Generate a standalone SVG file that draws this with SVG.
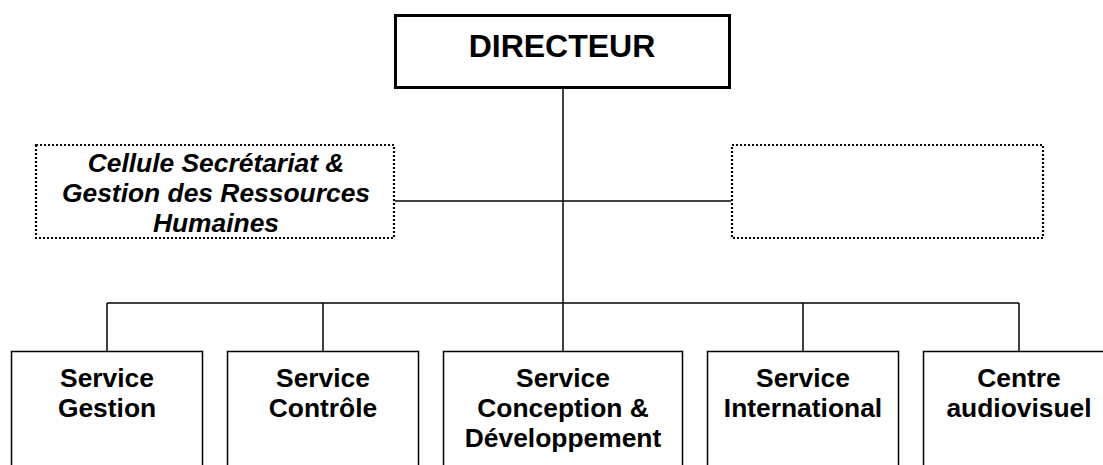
<svg xmlns="http://www.w3.org/2000/svg" width="1103" height="465" viewBox="0 0 1103 465">
  <style>
    text { font-family: "Liberation Sans", Arial, sans-serif; font-weight: bold; fill: #000; text-anchor: middle; }
    .unit { fill: #fff; stroke: #000; stroke-width: 1.5; }
    .staff { fill: #fff; stroke: #000; stroke-width: 2.2; stroke-dasharray: 2 2; }
    .head { fill: #fff; stroke: #000; stroke-width: 3; }
    .lbl { font-size: 26.4px; }
    .it { font-style: italic; }
    #connectors line { stroke: #000; stroke-width: 1.5; fill: none; }
  </style>
  <rect width="1103" height="465" fill="#fff"/>

  <!-- connectors -->
  <g id="connectors">
    <line x1="563" y1="88" x2="563" y2="303"/>
    <line x1="395" y1="201" x2="731" y2="201"/>
    <line x1="107" y1="303" x2="1019" y2="303"/>
    <line x1="107" y1="303" x2="107" y2="351"/>
    <line x1="323" y1="303" x2="323" y2="351"/>
    <line x1="563" y1="303" x2="563" y2="351"/>
    <line x1="803" y1="303" x2="803" y2="351"/>
    <line x1="1019" y1="303" x2="1019" y2="351"/>
  </g>

  <!-- head -->
  <g id="directeur">
    <rect class="head" x="395.5" y="15.5" width="334" height="72"/>
    <text x="562" y="57" font-size="32">DIRECTEUR</text>
  </g>

  <!-- staff units -->
  <g id="cellule-secretariat">
    <rect class="staff" x="36" y="145" width="358" height="93"/>
    <text class="lbl it" x="216" y="172">Cellule Secrétariat &amp;</text>
    <text class="lbl it" x="216" y="202">Gestion des Ressources</text>
    <text class="lbl it" x="216" y="232">Humaines</text>
  </g>
  <g id="cellule-vide">
    <rect class="staff" x="732" y="145" width="311" height="93"/>
  </g>

  <!-- services -->
  <g id="service-gestion">
    <rect class="unit" x="11.5" y="351.5" width="191" height="130"/>
    <text class="lbl" x="107" y="387">Service</text>
    <text class="lbl" x="107" y="417">Gestion</text>
  </g>
  <g id="service-controle">
    <rect class="unit" x="227.5" y="351.5" width="191" height="130"/>
    <text class="lbl" x="323" y="387">Service</text>
    <text class="lbl" x="323" y="417">Contrôle</text>
  </g>
  <g id="service-conception">
    <rect class="unit" x="443.5" y="351.5" width="239" height="130"/>
    <text class="lbl" x="563" y="387">Service</text>
    <text class="lbl" x="563" y="417">Conception &amp;</text>
    <text class="lbl" x="563" y="447">Développement</text>
  </g>
  <g id="service-international">
    <rect class="unit" x="707.5" y="351.5" width="191" height="130"/>
    <text class="lbl" x="803" y="387">Service</text>
    <text class="lbl" x="803" y="417">International</text>
  </g>
  <g id="centre-audiovisuel">
    <rect class="unit" x="923.5" y="351.5" width="191" height="130"/>
    <text class="lbl" x="1019" y="387">Centre</text>
    <text class="lbl" x="1019" y="417">audiovisuel</text>
  </g>
</svg>
